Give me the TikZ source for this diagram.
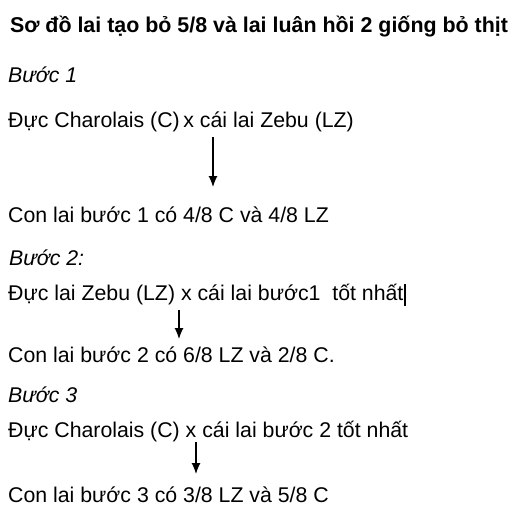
\documentclass[tikz,border=0pt]{standalone}
\usepackage{fontspec}
\setmainfont{Liberation Sans}
\usepackage{tikz}
\usetikzlibrary{arrows.meta,positioning}

\begin{document}
\begin{tikzpicture}[x=1pt,y=-1pt]
			\tikzstyle{Title}	= [anchor=base, inner sep=0pt, font=\fontsize{21.4}{21.4}\selectfont\bfseries]
			\tikzstyle{Line}	= [anchor=base west, inner sep=0pt, font=\fontsize{21.3}{21.3}\selectfont]
			\tikzstyle{Step}	= [Line, font=\fontsize{21.3}{21.3}\selectfont\itshape]
			\tikzstyle{Cross}	= [line width=1.2pt, -{Latex[length=11pt,width=9pt]}]
			\tikzstyle{Cursor}	= [line width=1.8pt]

			\useasboundingbox (0,0) rectangle (519,524);

			\node (title) at (259,33) [Title] {Sơ đồ lai tạo bỏ 5/8 và lai luân hồi 2 giống bỏ thịt};

			\node (b1) at (8,83) [Step] {Bước 1};
			\node (p1) at (8,128) [Line] {Đực Charolais (C)\,x cái lai Zebu (LZ)};
			\node (c1) at (8,222) [Line] {Con lai bước 1 có 4/8 C và 4/8 LZ};

			\node (b2) at (9,265) [Step] {Bước 2:};
			\node (p2) at (8,300) [Line] {Đực lai Zebu (LZ) x cái lai bước1 \ tốt nhất};
			\node (c2) at (8,362) [Line] {Con lai bước 2 có 6/8 LZ và 2/8 C.};

			\node (b3) at (8,402) [Step] {Bước 3};
			\node (p3) at (8,437) [Line] {Đực Charolais (C) x cái lai bước 2 tốt nhất};
			\node (c3) at (8,502) [Line] {Con lai bước 3 có 3/8 LZ và 5/8 C};

			\coordinate (a1) at (213,137);
			\coordinate (e1) at (213,187);
			\coordinate (a2) at (179,310);
			\coordinate (e2) at (179,339);
			\coordinate (a3) at (196,442);
			\coordinate (e3) at (196,474);

			\draw (a1) to (e1) [Cross];
			\draw (a2) to (e2) [Cross];
			\draw (a3) to (e3) [Cross];

			\draw (p2.east) ++(1,-10) coordinate (k1) -- ++(0,22) [Cursor];
		\end{tikzpicture}
\end{document}
